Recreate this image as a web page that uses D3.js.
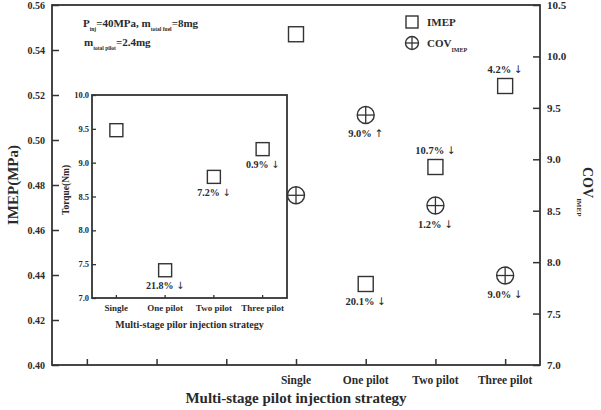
<!DOCTYPE html>
<html>
<head>
<meta charset="utf-8">
<script src="https://cdn.jsdelivr.net/npm/d3@7"></script>
<style>
  body { margin: 0; background: #fff; }
  svg text { font-family: "Liberation Serif", "Times New Roman", serif; font-weight: bold; fill: #2a2a2a; }
  svg text tspan.arrow { font-family: "DejaVu Sans", sans-serif; font-weight: normal; fill: #2a2a2a; }
</style>
</head>
<body>
<svg width="601" height="410"></svg>
<script>
// main chart data
const strategies = ['Single', 'One pilot', 'Two pilot', 'Three pilot']
const imep = [0.547, 0.436, 0.488, 0.524]
const cov = [8.65, 9.43, 8.55, 7.87]
const imepLabels = ['', '20.1%', '10.7%', '4.2%']
const imepArrows = ['', '\u2193', '\u2193', '\u2193']
const covLabels = ['', '9.0%', '1.2%', '9.0%']
const covArrows = ['', '\u2191', '\u2193', '\u2193']
// inset data
const torque = [9.48, 7.41, 8.79, 9.2]
const torqueLabels = ['', '21.8%', '7.2%', '0.9%']
const leftTicks = [0.40, 0.42, 0.44, 0.46, 0.48, 0.50, 0.52, 0.54, 0.56]
const rightTicks = [7.0, 7.5, 8.0, 8.5, 9.0, 9.5, 10.0, 10.5]
const torqueTicks = [7.0, 7.5, 8.0, 8.5, 9.0, 9.5, 10.0]

const svg = d3.select('svg')
const ink = '#333'
const m = {left: 52, right: 540, top: 5, bottom: 365}

// 7 slots on the main x axis, the last four carry the strategies
const offset = 3
const x = d3.scaleLinear().domain([-0.5, 6.5]).range([m.left, m.right])
const yL = d3.scaleLinear().domain([0.40, 0.56]).range([m.bottom, m.top])
const yR = d3.scaleLinear().domain([7.0, 10.5]).range([m.bottom, m.top])

function frame(g, x0, y0, x1, y1){
  g.append('rect')
    .attr('x', x0).attr('y', y0)
    .attr('width', x1 - x0).attr('height', y1 - y0)
    .attr('fill', 'none').attr('stroke', ink).attr('stroke-width', 1.8)
}

frame(svg, m.left, m.top, m.right, m.bottom)

// left axis
const gL = svg.append('g').attr('transform', 'translate(' + m.left + ',0)')
gL.call(d3.axisRight(yL).tickValues(d3.range(0.40, 0.5601, 0.01)).tickSize(4).tickFormat(''))
gL.call(d3.axisRight(yL).tickValues(leftTicks).tickSize(7).tickFormat(''))
gL.selectAll('.domain').remove()
gL.selectAll('line').attr('stroke', ink).attr('stroke-width', 1.5)
svg.append('g').selectAll('text').data(leftTicks).join('text')
  .attr('x', m.left - 7).attr('y', d => yL(d) + 3.5)
  .attr('text-anchor', 'end').attr('font-size', 10)
  .text(d => d.toFixed(2))

// right axis
const gR = svg.append('g').attr('transform', 'translate(' + m.right + ',0)')
gR.call(d3.axisLeft(yR).tickValues(d3.range(7.0, 10.501, 0.25)).tickSize(4).tickFormat(''))
gR.call(d3.axisLeft(yR).tickValues(rightTicks).tickSize(7).tickFormat(''))
gR.selectAll('.domain').remove()
gR.selectAll('line').attr('stroke', ink).attr('stroke-width', 1.5)
svg.append('g').selectAll('text').data(rightTicks).join('text')
  .attr('x', m.right + 7).attr('y', d => yR(d) + 4)
  .attr('font-size', 11)
  .text(d => d.toFixed(1))

// bottom axis
const gB = svg.append('g').attr('transform', 'translate(0,' + m.bottom + ')')
gB.call(d3.axisTop(x).tickValues(d3.range(-0.5, 6.51, 0.5).filter(v => v % 1 !== 0)).tickSize(3).tickFormat(''))
gB.call(d3.axisTop(x).tickValues(d3.range(0, 7)).tickSize(6).tickFormat(''))
gB.selectAll('.domain').remove()
gB.selectAll('line').attr('stroke', ink).attr('stroke-width', 1.5)
svg.append('g').selectAll('text').data(strategies).join('text')
  .attr('x', (d, i) => x(i + offset)).attr('y', m.bottom + 19)
  .attr('text-anchor', 'middle').attr('font-size', 11.5)
  .text(d => d)

// axis titles
svg.append('text').attr('x', (m.left + m.right) / 2).attr('y', 403)
  .attr('text-anchor', 'middle').attr('font-size', 15).text('Multi-stage pilot injection strategy')
svg.append('text').attr('transform', 'translate(18,' + 185 + ') rotate(-90)')
  .attr('text-anchor', 'middle').attr('font-size', 15).text('IMEP(MPa)')
const covTitle = svg.append('text').attr('transform', 'translate(583,167) rotate(90)')
  .attr('font-size', 14)
covTitle.append('tspan').text('COV')
covTitle.append('tspan').attr('font-size', 7).attr('dy', 6).text('IMEP')

// markers
function square(g, cx, cy, s){
  g.append('rect').attr('x', cx - s / 2).attr('y', cy - s / 2)
    .attr('width', s).attr('height', s)
    .attr('fill', 'none').attr('stroke', ink).attr('stroke-width', 1.4)
}
function crossCircle(g, cx, cy, r){
  g.append('circle').attr('cx', cx).attr('cy', cy).attr('r', r)
    .attr('fill', 'none').attr('stroke', ink).attr('stroke-width', 1.4)
  g.append('line').attr('x1', cx - r).attr('x2', cx + r).attr('y1', cy).attr('y2', cy)
    .attr('stroke', ink).attr('stroke-width', 1.3)
  g.append('line').attr('x1', cx).attr('x2', cx).attr('y1', cy - r).attr('y2', cy + r)
    .attr('stroke', ink).attr('stroke-width', 1.3)
}
function note(g, cx, cy, t, arrow, size){
  const el = g.append('text').attr('x', cx).attr('y', cy)
    .attr('text-anchor', 'middle').attr('font-size', size)
  el.append('tspan').text(t + ' ')
  el.append('tspan').attr('class', 'arrow').attr('fill', '#2a2a2a').text(arrow)
}

const marks = svg.append('g')
imep.forEach((v, i) => square(marks, x(i + offset), yL(v), 15))
cov.forEach((v, i) => crossCircle(marks, x(i + offset), yR(v), 8.5))

// percentage notes: square labels above except for One pilot (below)
imepLabels.forEach((t, i) => {
  if (!t) return
  const below = i === 1
  note(svg, x(i + offset), yL(imep[i]) + (below ? 21 : -13), t, imepArrows[i], 10.5)
})
covLabels.forEach((t, i) => {
  if (!t) return
  note(svg, x(i + offset), yR(cov[i]) + 22, t, covArrows[i], 10.5)
})

// legend
square(svg, 412, 22, 12)
svg.append('text').attr('x', 427).attr('y', 26).attr('font-size', 11).text('IMEP')
crossCircle(svg, 412, 43, 6.5)
const lg = svg.append('text').attr('x', 427).attr('y', 47).attr('font-size', 11)
lg.append('tspan').text('COV')
lg.append('tspan').attr('font-size', 6).attr('dy', 5).text('IMEP')

// conditions note
const n1 = svg.append('text').attr('x', 83).attr('y', 27).attr('font-size', 11)
n1.append('tspan').text('P')
n1.append('tspan').attr('font-size', 5.5).attr('dy', 4).text('inj')
n1.append('tspan').attr('dy', -4).text('=40MPa, m')
n1.append('tspan').attr('font-size', 5.5).attr('dy', 4).text('total fuel')
n1.append('tspan').attr('dy', -4).text('=8mg')
const n2 = svg.append('text').attr('x', 84).attr('y', 46).attr('font-size', 11)
n2.append('tspan').text('m')
n2.append('tspan').attr('font-size', 5.5).attr('dy', 4).text('total pilot')
n2.append('tspan').attr('dy', -4).text('=2.4mg')

// inset: torque
const ins = {left: 92, right: 287, top: 95, bottom: 298}
const xi = d3.scaleBand().domain(strategies).range([ins.left, ins.right])
const yi = d3.scaleLinear().domain([7.0, 10.0]).range([ins.bottom, ins.top])
const gi = svg.append('g')
gi.append('rect').attr('x', ins.left).attr('y', ins.top)
  .attr('width', ins.right - ins.left).attr('height', ins.bottom - ins.top)
  .attr('fill', '#fff').attr('stroke', ink).attr('stroke-width', 1.8)

const giL = gi.append('g').attr('transform', 'translate(' + ins.left + ',0)')
giL.call(d3.axisRight(yi).tickValues(d3.range(7.0, 10.01, 0.25)).tickSize(2.5).tickFormat(''))
giL.call(d3.axisRight(yi).tickValues(torqueTicks).tickSize(4).tickFormat(''))
giL.selectAll('.domain').remove()
giL.selectAll('line').attr('stroke', ink).attr('stroke-width', 1.3)
gi.append('g').selectAll('text').data(torqueTicks).join('text')
  .attr('x', ins.left - 3).attr('y', d => yi(d) + 3)
  .attr('text-anchor', 'end').attr('font-size', 8.5)
  .text(d => d.toFixed(1))

const giB = gi.append('g').attr('transform', 'translate(0,' + ins.bottom + ')')
giB.call(d3.axisTop(xi).tickSize(3).tickFormat(''))
giB.selectAll('.domain').remove()
giB.selectAll('line').attr('stroke', ink).attr('stroke-width', 1.3)
gi.append('g').selectAll('text').data(strategies).join('text')
  .attr('x', d => xi(d) + xi.bandwidth() / 2).attr('y', ins.bottom + 13)
  .attr('text-anchor', 'middle').attr('font-size', 9)
  .text(d => d)

gi.append('text').attr('x', (ins.left + ins.right) / 2).attr('y', 328)
  .attr('text-anchor', 'middle').attr('font-size', 10).text('Multi-stage pilor injection strategy')
gi.append('text').attr('transform', 'translate(69,190) rotate(-90)')
  .attr('text-anchor', 'middle').attr('font-size', 9.5).text('Torque(Nm)')

torque.forEach((v, i) => square(gi, xi(strategies[i]) + xi.bandwidth() / 2, yi(v), 13))
torqueLabels.forEach((t, i) => {
  if (!t) return
  note(gi, xi(strategies[i]) + xi.bandwidth() / 2, yi(torque[i]) + 19, t, '\u2193', 10)
})
</script>
</body>
</html>
